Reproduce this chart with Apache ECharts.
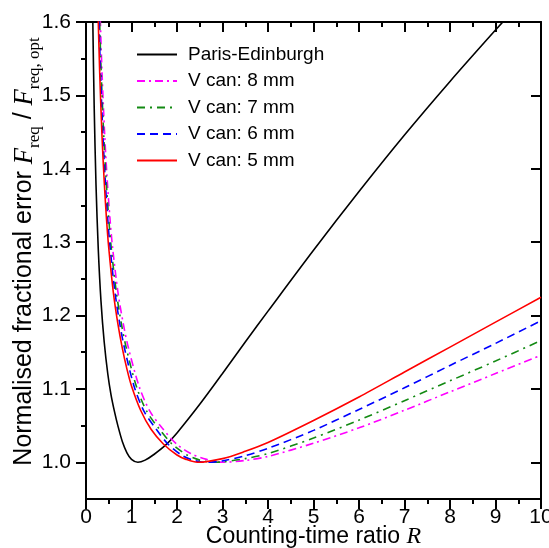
<!DOCTYPE html>
<html>
<head>
<meta charset="utf-8">
<script src="https://cdn.jsdelivr.net/npm/echarts@6/dist/echarts.min.js"></script>
<style>
html,body{margin:0;padding:0;background:#fff;}
#chart{width:549px;height:548px;}
</style>
</head>
<body>
<div id="chart"></div>
<script>
// ---- data ----
const seriesNames = ['Paris-Edinburgh', 'V can: 8 mm', 'V can: 7 mm', 'V can: 6 mm', 'V can: 5 mm'];

const parisEdinburgh = [
  [0.13,1.707],[0.15,1.60],[0.18,1.484],[0.22,1.378],[0.27,1.29],[0.33,1.219],[0.40,1.164],
  [0.48,1.12],[0.55,1.092],[0.63,1.068],[0.70,1.05],[0.80,1.028],[0.90,1.013],[1.0,1.004],
  [1.14,1.0],[1.3,1.003],[1.5,1.011],[1.76,1.024],[2.0,1.040],[2.5,1.079],[3.0,1.121],
  [3.5,1.164],[4.0,1.206],[5.0,1.289],[6.0,1.369],[7.0,1.446],[8.0,1.519],[9.0,1.589],[9.5,1.623]
];
const vcan8 = [
  [0.293,1.654],[0.316,1.60],[0.351,1.533],[0.41,1.447],[0.468,1.383],[0.527,1.332],[0.585,1.292],
  [0.702,1.232],[0.819,1.189],[0.936,1.155],[1.17,1.103],[1.40,1.07],[1.67,1.047],[1.99,1.025],
  [2.3,1.012],[2.65,1.004],[3.0,1.0],[3.5,1.0025],[4.0,1.008],[5.0,1.026],[6.0,1.047],[7.0,1.071],
  [8.0,1.096],[9.0,1.121],[10.0,1.146]
];
const vcan7 = [
  [0.278,1.654],[0.30,1.60],[0.333,1.533],[0.389,1.447],[0.444,1.383],[0.50,1.332],[0.555,1.292],
  [0.666,1.232],[0.777,1.189],[0.888,1.155],[1.11,1.103],[1.33,1.07],[1.59,1.047],[1.89,1.025],
  [2.22,1.01],[2.5,1.003],[2.8,1.0],[3.0,1.0005],[3.5,1.005],[4.0,1.012],[5.0,1.033],[6.0,1.0575],
  [7.0,1.084],[8.0,1.111],[9.0,1.138],[10.0,1.166]
];
const vcan6 = [
  [0.265,1.654],[0.286,1.60],[0.318,1.533],[0.371,1.447],[0.424,1.383],[0.477,1.332],[0.53,1.292],
  [0.636,1.232],[0.742,1.189],[0.848,1.155],[1.06,1.103],[1.27,1.07],[1.52,1.047],[1.8,1.025],
  [2.12,1.009],[2.35,1.003],[2.6,1.0],[3.0,1.002],[3.5,1.009],[4.0,1.019],[5.0,1.0435],[6.0,1.072],
  [7.0,1.1015],[8.0,1.132],[9.0,1.162],[10.0,1.193]
];
const vcan5 = [
  [0.25,1.654],[0.27,1.60],[0.30,1.533],[0.35,1.447],[0.40,1.383],[0.45,1.332],[0.50,1.292],
  [0.60,1.232],[0.70,1.189],[0.80,1.155],[0.90,1.127],[1.0,1.104],[1.2,1.071],[1.43,1.045],[1.7,1.025],
  [2.0,1.010],[2.2,1.004],[2.45,1.0],[3.0,1.005],[3.5,1.015],[4.0,1.027],[5.0,1.057],[6.0,1.089],
  [7.0,1.123],[8.0,1.157],[9.0,1.191],[10.0,1.225]
];

const yMajor = [1.0, 1.1, 1.2, 1.3, 1.4, 1.5, 1.6];
const yMinor = [1.05, 1.15, 1.25, 1.35, 1.45, 1.55];

// ---- chart ----
const chart = echarts.init(document.getElementById('chart'), null, {renderer: 'canvas'});
const FONT = 'Liberation Sans, Arial, sans-serif';
const SERIF = 'Liberation Serif, Times New Roman, serif';
const axLine = {show: true, onZero: false, lineStyle: {color: '#000', width: 2}};

function xAx(pos, labels) {
  const ins = pos === 'top';
  return {
    type: 'value', min: 0, max: 10, interval: 1, position: pos,
    axisLine: axLine,
    axisTick: {show: true, inside: ins, length: 10, lineStyle: {color: '#000', width: 2}},
    minorTick: {show: true, splitNumber: 2, length: 5, lineStyle: {color: '#000', width: 2}},
    splitLine: {show: false}, minorSplitLine: {show: false},
    axisLabel: {show: labels, fontSize: 21, color: '#000', fontFamily: FONT, margin: 8},
    name: labels ? '{t|Counting-time ratio }{i|R}' : '',
    nameLocation: 'middle', nameGap: 26, nameMoveOverlap: false,
    nameTextStyle: {rich: {
      t: {fontSize: 23, fontFamily: FONT, color: '#000'},
      i: {fontSize: 24, fontFamily: SERIF, fontStyle: 'italic', color: '#000'}
    }}
  };
}
function yAx(pos, major, withName) {
  const ins = pos === 'right';
  return {
    type: 'value', min: 0.95, max: 1.6, position: pos,
    axisLine: major ? axLine : {show: false},
    axisTick: {show: true, inside: ins, length: major ? 10 : 5,
               customValues: major ? yMajor : yMinor,
               lineStyle: {color: '#000', width: 2}},
    splitLine: {show: false},
    axisLabel: {show: major && pos === 'left', customValues: major ? yMajor : yMinor,
                formatter: v => v.toFixed(1),
                fontSize: 21, color: '#000', fontFamily: FONT, margin: 15},
    name: withName ? '{t|Normalised fractional error }{f|F}{s|req}{t| / }{f|F}{s|req, opt}' : '',
    nameLocation: 'middle', nameGap: 47, nameRotate: 90, nameMoveOverlap: false,
    nameTextStyle: {padding: [0, 0, 0, 18], rich: {
      t: {fontSize: 25, fontFamily: FONT, color: '#000', lineHeight: 27, verticalAlign: 'top'},
      f: {fontSize: 26.5, fontFamily: SERIF, fontStyle: 'italic', color: '#000', lineHeight: 27, verticalAlign: 'top'},
      s: {fontSize: 17, fontFamily: SERIF, color: '#000', lineHeight: 17, padding: [14, 0, 0, 0], verticalAlign: 'top'}
    }}
  };
}

const styles = [
  {color: '#000000', type: 'solid'},
  {color: '#ff00ff', type: [8, 4, 2, 4]},
  {color: '#138a13', type: [8, 5, 2, 5]},
  {color: '#0000ff', type: [8, 5]},
  {color: '#ff0000', type: 'solid'}
];
const datas = [parisEdinburgh, vcan8, vcan7, vcan6, vcan5];

chart.setOption({
  animation: false,
  backgroundColor: '#fff',
  grid: {left: 86, right: 8, top: 22, bottom: 49, containLabel: false, outerBoundsMode: 'none'},
  xAxis: [xAx('bottom', true), xAx('top', false)],
  yAxis: [yAx('left', true, true), yAx('left', false, false), yAx('right', true, false), yAx('right', false, false)],
  legend: {
    orient: 'vertical', left: 131, top: 40,
    itemWidth: 40, itemHeight: 14, itemGap: 7.5,
    itemStyle: {opacity: 0},
    textStyle: {fontSize: 19, fontFamily: FONT, color: '#000', padding: [0, 0, 0, 6], lineHeight: 17},
    data: seriesNames
  },
  series: seriesNames.map((n, i) => ({
    name: n, type: 'line', data: datas[i], xAxisIndex: 0, yAxisIndex: 0,
    showSymbol: false, symbol: 'none', smooth: 0.3, clip: true,
    lineStyle: {color: styles[i].color, type: styles[i].type, width: 1.6},
    itemStyle: {color: styles[i].color}
  }))
});
</script>
</body>
</html>
